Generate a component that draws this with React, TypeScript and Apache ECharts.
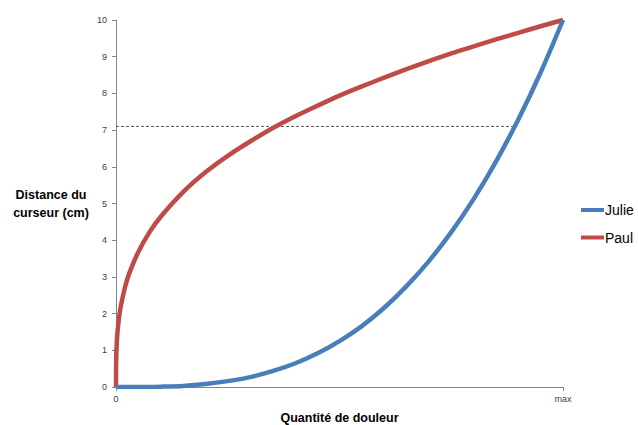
import React, { useEffect, useRef } from "react";
import * as echarts from "echarts";

// x runs from 0 to "max" (100)
const juliePainX = [0, 5, 10, 15, 20, 25, 30, 35, 40, 45, 50, 55, 60, 65, 70, 75, 80, 85, 90, 95, 100];
const julieDistance = [0, 0, 0.01, 0.03, 0.08, 0.16, 0.27, 0.43, 0.64, 0.91, 1.25, 1.66, 2.16, 2.75, 3.43, 4.22, 5.12, 6.14, 7.29, 8.57, 10];

const paulPainX = [0, 0.05, 0.2, 0.5, 1, 2, 3, 5, 7.5, 10, 15, 20, 25, 30, 35, 40, 45, 50, 55, 60, 65, 70, 75, 80, 85, 90, 95, 100];
const paulDistance = [0, 0.79, 1.26, 1.71, 2.15, 2.71, 3.11, 3.68, 4.22, 4.64, 5.31, 5.85, 6.3, 6.69, 7.05, 7.37, 7.66, 7.94, 8.19, 8.43, 8.66, 8.88, 9.09, 9.28, 9.47, 9.65, 9.83, 10];

const guideX = [0, 89.3];
const guideY = [7.1, 7.1];

const yTicks = [0, 1, 2, 3, 4, 5, 6, 7, 8, 9, 10];
const xTickLabels: Record<number, string> = { 0: "0", 100: "max" };

const FONT = "'Liberation Sans', Arial, sans-serif";

export default function App() {
  const ref = useRef<HTMLDivElement>(null);
  useEffect(() => {
    if (!ref.current) return;
    const chart = echarts.init(ref.current, undefined, { renderer: "svg" });
    chart.setOption({
      animation: false,
      backgroundColor: "#ffffff",
      textStyle: { fontFamily: FONT },
      grid: { left: 116, right: 75, top: 20, bottom: 38, containLabel: false, outerBoundsMode: "none" },
      legend: {
        data: ["Julie", "Paul"],
        orient: "vertical",
        left: 581,
        top: 202,
        padding: 0,
        itemWidth: 23,
        itemHeight: 4,
        itemGap: 11.5,
        icon: "rect",
        textStyle: { fontSize: 14, color: "#000", fontFamily: FONT, lineHeight: 16, padding: [0, 0, 0, -4] },
      },
      xAxis: {
        type: "value",
        min: 0,
        max: 100,
        interval: 100,
        name: "Quantité de douleur",
        nameLocation: "middle",
        nameGap: 24,
        nameTextStyle: { fontSize: 12.5, fontWeight: "bold", color: "#000", fontFamily: FONT, lineHeight: 14 },
        axisLine: { show: true, lineStyle: { color: "#868686", width: 1 } },
        axisTick: { show: true, length: 4, lineStyle: { color: "#868686" } },
        axisLabel: { fontSize: 9, color: "#404040", margin: 7, formatter: (v: number) => xTickLabels[v] ?? "" },
        splitLine: { show: false },
      },
      yAxis: {
        type: "value",
        min: yTicks[0],
        max: yTicks[yTicks.length - 1],
        interval: 1,
        axisLine: { show: true, lineStyle: { color: "#868686", width: 1 } },
        axisTick: { show: true, length: 4, lineStyle: { color: "#868686" } },
        axisLabel: { fontSize: 9, color: "#404040", margin: 9 },
        splitLine: { show: false },
      },
      graphic: [
        {
          type: "text",
          x: 51,
          y: 204,
          style: {
            text: "Distance du\ncurseur (cm)",
            fontSize: 12.5,
            fontWeight: "bold",
            fontFamily: FONT,
            fill: "#000",
            align: "center",
            verticalAlign: "middle",
            lineHeight: 18,
          },
        },
      ],
      series: [
        {
          name: "guide",
          type: "line",
          data: guideX.map((x, i) => [x, guideY[i]]),
          symbol: "none",
          lineStyle: { color: "#595959", width: 1, type: [3, 2] },
          silent: true,
          z: 1,
        },
        {
          name: "Julie",
          type: "line",
          data: juliePainX.map((x, i) => [x, julieDistance[i]]),
          smooth: 0.3,
          symbol: "none",
          color: "#4a7ebb",
          lineStyle: { color: "#4a7ebb", width: 4.5 },
          z: 3,
        },
        {
          name: "Paul",
          type: "line",
          data: paulPainX.map((x, i) => [x, paulDistance[i]]),
          smooth: 0.3,
          symbol: "none",
          color: "#be4b48",
          lineStyle: { color: "#be4b48", width: 4.5 },
          z: 2,
        },
      ],
    });
    return () => chart.dispose();
  }, []);
  return <div ref={ref} style={{ position: "fixed", left: 0, top: 0, width: 638, height: 425 }} />;
}
